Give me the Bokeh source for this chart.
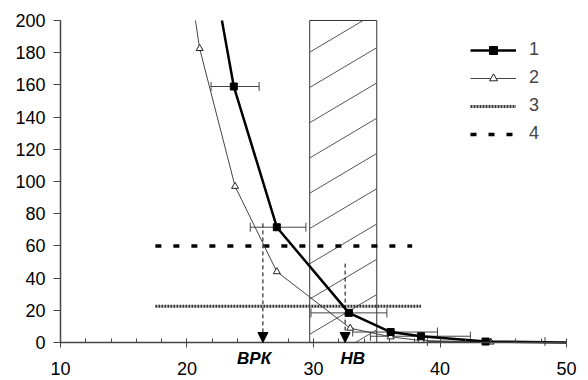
import numpy as np
from bokeh.plotting import figure
from bokeh.models import (Range1d, Whisker, ColumnDataSource, Legend, LegendItem,
                          Arrow, NormalHead, TeeHead, FixedTicker)
from bokeh.core.properties import value
from bokeh.embed import file_html
from bokeh.resources import INLINE

# ---- data ----
s1_x = [22.76, 23.7, 27.1, 32.8, 36.1, 38.5, 43.6, 50.0]
s1_y = [200.0, 159.0, 71.6, 18.4, 6.5, 3.9, 0.6, 0.0]

err1_y = [159.0, 71.6, 18.4, 6.5, 3.9, 0.6]
err1_lo = [21.9, 25.0, 29.8, 33.1, 34.5, 39.0]
err1_hi = [25.7, 29.4, 35.8, 39.8, 42.4, 48.3]

s2_x = [20.67, 21.0, 23.8, 27.1, 32.9, 36.1, 38.5, 44.0, 50.0]
s2_y = [200.0, 182.6, 97.0, 44.0, 8.9, 3.5, 1.2, 0.3, 0.0]

s3_x = [17.5, 38.5]
s3_y = [22.5, 22.5]

s4_x = [17.5, 37.8]
s4_y = [60.0, 60.0]

zone_x = [29.7, 35.0]
zone_top = 200.0

arrow_x = [26.0, 32.5]
arrow_top = [74.0, 49.0]
arrow_label_x = [25.3, 33.1]
arrow_labels = ["ВРК", "НВ"]

x_ticks = [10, 20, 30, 40, 50]
y_ticks = [0, 20, 40, 60, 80, 100, 120, 140, 160, 180, 200]
legend_labels = ["1", "2", "3", "4"]

FONT = "Liberation Sans"

# the frame covers the whole canvas; axes are pinned at x = 10 and y = 0
p = figure(width=588, height=380, output_backend="svg", toolbar_location=None,
           x_range=Range1d(5.257, 51.739), y_range=Range1d(-23.6, 212.42),
           min_border_left=0, min_border_right=0, min_border_top=0, min_border_bottom=0)
p.outline_line_color = None
p.grid.visible = False
p.background_fill_color = "white"
p.border_fill_color = "white"

for ax in (p.xaxis[0], p.yaxis[0]):
    ax.axis_line_color = "#444444"
    ax.axis_line_width = 1.5
    ax.major_tick_line_color = "#444444"
    ax.minor_tick_line_color = "#444444"
    ax.major_label_text_font = FONT
    ax.major_label_text_font_size = "18px"
    ax.major_label_text_color = "black"

p.xaxis.fixed_location = 0
p.xaxis.bounds = (10, 50)
p.xaxis.ticker = FixedTicker(ticks=x_ticks, minor_ticks=np.arange(10, 51, 2).tolist())
p.xaxis.major_tick_in = 3
p.xaxis.major_tick_out = 5
p.xaxis.minor_tick_in = 4
p.xaxis.minor_tick_out = 0
p.xaxis.major_label_standoff = 14

p.yaxis.fixed_location = 10
p.yaxis.ticker = FixedTicker(ticks=y_ticks)
p.yaxis.bounds = (0, 200)
p.yaxis.major_tick_in = 0
p.yaxis.major_tick_out = 7
p.yaxis.minor_tick_line_color = None
p.yaxis.major_label_standoff = 8

# hatched zone
p.quad(left=zone_x[0], right=zone_x[1], bottom=0, top=zone_top,
       fill_color=None, line_color="#333333", line_width=1)
slope = 4.66      # hatch slope (data units)
step = 21.9       # hatch spacing
first = 180.3
x0s, y0s, x1s, y1s = [], [], [], []
for c in np.arange(first + step, -40, -step):
    xa = max(zone_x[0], zone_x[0] - c / slope)
    xb = min(zone_x[1], zone_x[0] + (zone_top - c) / slope)
    if xb > xa:
        x0s.append(xa); y0s.append(c + slope * (xa - zone_x[0]))
        x1s.append(xb); y1s.append(c + slope * (xb - zone_x[0]))
p.segment(x0=x0s, y0=y0s, x1=x1s, y1=y1s, line_color="#555555", line_width=1)

# series 3 and 4
r3 = p.line(s3_x, s3_y, line_color="#333333", line_width=3, line_dash="2 1")
r4 = p.line(s4_x, s4_y, line_color="black", line_width=3.5, line_dash="6 12")

# series 2
r2l = p.line(s2_x, s2_y, line_color="#444444", line_width=1)
r2m = p.scatter(s2_x[1:-1], s2_y[1:-1], marker="triangle", size=7, fill_color="white",
                line_color="#222222", line_width=1)

# error bars series 1
src_e = ColumnDataSource(dict(base=err1_y, lower=err1_lo, upper=err1_hi))
wh = Whisker(source=src_e, base="base", lower="lower", upper="upper", dimension="width",
             line_color="#444444", line_width=1,
             upper_head=TeeHead(size=9, line_color="#444444", line_width=1),
             lower_head=TeeHead(size=9, line_color="#444444", line_width=1))
p.add_layout(wh)

# series 1
r1l = p.line(s1_x, s1_y, line_color="black", line_width=2.5)
r1m = p.scatter(s1_x[1:-1], s1_y[1:-1], marker="square", size=7, fill_color="black",
                line_color="black")

# arrows
for xa, ya in zip(arrow_x, arrow_top):
    p.add_layout(Arrow(x_start=xa, y_start=ya, x_end=xa, y_end=0,
                       line_color="black", line_width=1, line_dash="4 3",
                       end=NormalHead(size=10, fill_color="black", line_color="black")))
p.text(x=arrow_label_x, y=[-10.0] * len(arrow_label_x), text=arrow_labels,
       text_font=value(FONT), text_font_size="17px", text_font_style="bold italic",
       text_align="center", text_baseline="middle", text_color="black")

legend = Legend(items=[
    LegendItem(label=legend_labels[0], renderers=[r1l, r1m]),
    LegendItem(label=legend_labels[1], renderers=[r2l, r2m]),
    LegendItem(label=legend_labels[2], renderers=[r3]),
    LegendItem(label=legend_labels[3], renderers=[r4]),
], location=(470, 236))
legend.padding = 0
legend.margin = 0
legend.spacing = 7
legend.glyph_width = 46
legend.glyph_height = 20
legend.label_standoff = 13
legend.label_text_font = FONT
legend.label_text_font_size = "18px"
legend.border_line_alpha = 0
legend.background_fill_alpha = 0
p.add_layout(legend, "center")

open("out.html", "w").write(file_html(p, INLINE))
